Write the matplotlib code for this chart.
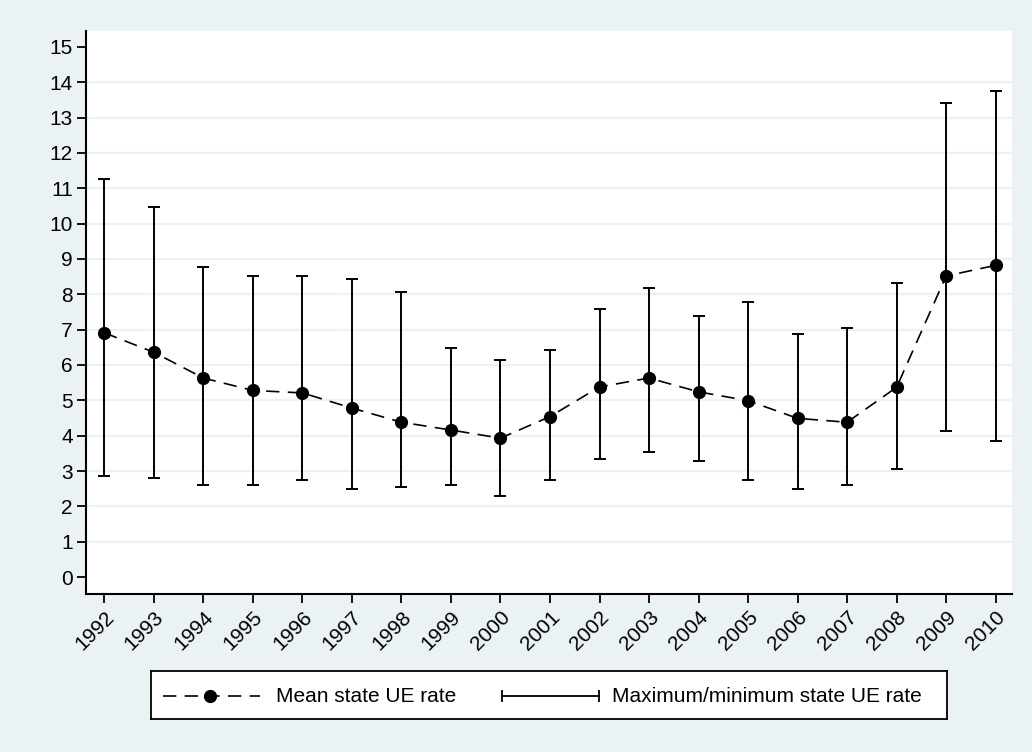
import matplotlib
matplotlib.use("Agg")
import matplotlib.pyplot as plt
from matplotlib.lines import Line2D

plt.rcParams["font.family"] = ["Liberation Sans", "DejaVu Sans"]

years = list(range(1992, 2011))
mean_rate = [6.91, 6.36, 5.63, 5.28, 5.21, 4.78, 4.38, 4.16, 3.93, 4.54,
             5.38, 5.63, 5.24, 4.99, 4.49, 4.38, 5.37, 8.52, 8.82]
max_rate = [11.26, 10.47, 8.77, 8.51, 8.51, 8.44, 8.06, 6.48, 6.15, 6.41,
            7.59, 8.18, 7.39, 7.79, 6.87, 7.06, 8.32, 13.42, 13.75]
min_rate = [2.87, 2.80, 2.61, 2.61, 2.75, 2.48, 2.55, 2.60, 2.28, 2.75,
            3.33, 3.53, 3.28, 2.75, 2.48, 2.61, 3.07, 4.12, 3.86]
y_ticks = list(range(0, 16))
legend_labels = ["Mean state UE rate", "Maximum/minimum state UE rate"]

BG = "#EAF2F3"
W, H = 1032, 752

fig = plt.figure(figsize=(W / 100, H / 100), dpi=100, facecolor=BG)
ax = fig.add_axes([86 / W, 1 - 594 / H, (1012 - 86) / W, (594 - 31) / H])
ax.set_facecolor("white")

# horizontal grid lines
for v in y_ticks[1:-1]:
    ax.axhline(v, color=BG, lw=1.6, zorder=0)

# range bars (max/min)
lo = [m - a for m, a in zip(mean_rate, min_rate)]
hi = [b - m for m, b in zip(mean_rate, max_rate)]
ax.errorbar(years, mean_rate, yerr=[lo, hi], fmt="none", ecolor="black",
            elinewidth=1.4, capsize=4, capthick=1.4, zorder=2)

# mean line
ax.plot(years, mean_rate, color="black", lw=1.2, linestyle=(0, (8, 5)),
        marker="o", markersize=8.5, markerfacecolor="black",
        markeredgecolor="black", zorder=3)

ax.set_xlim(1991.63, 2010.33)
ax.set_ylim(-0.48, 15.45)
ax.set_yticks(y_ticks)
ax.set_yticklabels([str(v) for v in y_ticks])
ax.set_xticks(years)
ax.set_xticklabels([str(y) for y in years], rotation=45, ha="right",
                   va="top", rotation_mode="anchor")

for s in ["top", "right"]:
    ax.spines[s].set_visible(False)
for s in ["left", "bottom"]:
    ax.spines[s].set_linewidth(1.5)
ax.tick_params(axis="both", length=6.5, width=1.3, labelsize=15,
               colors="black")
ax.tick_params(axis="y", pad=3)
ax.tick_params(axis="x", pad=3)

# legend box
lg = fig.add_axes([151 / W, 1 - 719 / H, (947 - 151) / W, (719 - 671) / H])
lg.set_xlim(151, 947)
lg.set_ylim(719, 671)
lg.set_facecolor("white")
lg.set_xticks([])
lg.set_yticks([])
for s in lg.spines.values():
    s.set_linewidth(1.3)
    s.set_color("black")

lg.add_line(Line2D([163, 260], [696, 696], color="black", lw=1.2,
                   linestyle=(0, (8, 5))))
lg.add_line(Line2D([210], [696], color="black", marker="o", markersize=8.5,
                   linestyle="none"))
lg.text(276, 697, legend_labels[0], fontsize=15, va="center", ha="left")

lg.add_line(Line2D([502, 599], [696, 696], color="black", lw=1.3))
lg.add_line(Line2D([502, 599], [696, 696], color="black", marker="|",
                   markersize=8, markeredgewidth=1.3, linestyle="none"))
lg.text(612, 697, legend_labels[1], fontsize=15, va="center", ha="left")

fig.savefig("out.png", dpi=100, facecolor=BG)
